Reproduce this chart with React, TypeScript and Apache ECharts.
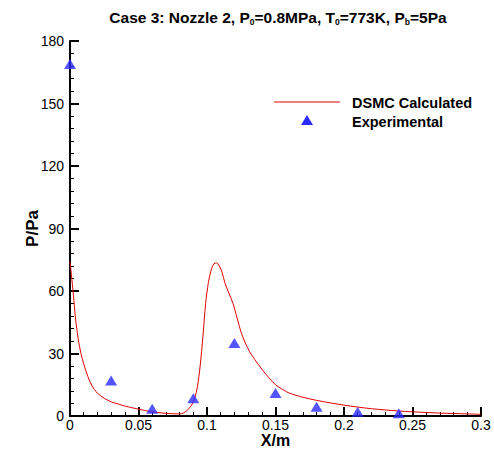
import React, { useEffect, useRef } from "react";
import * as echarts from "echarts";

const xTicks = [0, 0.05, 0.1, 0.15, 0.2, 0.25, 0.3];
const yTicks = [0, 30, 60, 90, 120, 150, 180];

const dsmcX = [0, 0.001, 0.0025, 0.004, 0.006, 0.008, 0.01, 0.013, 0.016, 0.02, 0.025, 0.03, 0.035, 0.04, 0.045, 0.05, 0.055, 0.06, 0.065, 0.07, 0.075, 0.08, 0.083, 0.086, 0.089, 0.091, 0.093, 0.095, 0.097, 0.099, 0.101, 0.103, 0.105, 0.107, 0.109, 0.111, 0.113, 0.116, 0.119, 0.122, 0.125, 0.128, 0.131, 0.135, 0.14, 0.145, 0.15, 0.155, 0.16, 0.17, 0.18, 0.19, 0.2, 0.21, 0.22, 0.23, 0.24, 0.25, 0.26, 0.27, 0.28, 0.29, 0.3];
const dsmcY = [74, 68, 58, 47, 37, 30, 25, 19, 14.5, 11, 8.5, 6.8, 5.8, 4.8, 4, 3.3, 2.6, 2, 1.6, 1.3, 1.1, 1.0, 1.5, 3, 5.5, 8.5, 14, 24, 38, 54, 64, 70, 73, 73.5, 72, 69, 64, 59, 54, 47, 40, 35, 31, 27, 22.5, 18.5, 15, 12.8, 11, 9, 7.5, 6.3, 5.2, 4.3, 3.5, 2.9, 2.4, 2, 1.7, 1.4, 1.2, 1, 0.8];

const expX = [0, 0.03, 0.06, 0.09, 0.12, 0.15, 0.18, 0.21, 0.24];
const expY = [169, 17, 3.5, 8.5, 35, 11, 4.5, 2, 1.3];

const FONT = "'Liberation Sans', Arial, sans-serif";

export default function App() {
  const ref = useRef<HTMLDivElement>(null);
  useEffect(() => {
    if (!ref.current) return;
    const chart = echarts.init(ref.current, null, { renderer: "svg" });
    chart.setOption({
      animation: false,
      backgroundColor: "#fff",
      title: {
        text: "Case 3: Nozzle 2, P{s|0}=0.8MPa, T{s|0}=773K, P{s|b}=5Pa",
        left: 273,
        textAlign: "center",
        top: 4,
        textStyle: {
          fontFamily: FONT,
          fontSize: 15.5,
          fontWeight: "bold",
          color: "#000",
          rich: {
            s: { fontFamily: FONT, fontSize: 8.5, fontWeight: "bold", color: "#000", padding: [8, 0, 0, 0] },
          },
        },
      },
      grid: { left: 70, right: 13, top: 41, bottom: 33, outerBoundsMode: "none", containLabel: false },
      xAxis: {
        type: "value",
        min: 0,
        max: 0.3,
        interval: 0.05,
        name: "X/m",
        nameLocation: "middle",
        nameGap: 17,
        nameMoveOverlap: false,
        nameTextStyle: { fontFamily: FONT, fontSize: 16, lineHeight: 14, fontWeight: "bold", color: "#000" },
        axisLine: { show: true, onZero: false, lineStyle: { color: "#000", width: 2 } },
        axisTick: { show: true, inside: true, length: 9, lineStyle: { color: "#000", width: 2 } },
        minorTick: { show: true, splitNumber: 5, length: 4, lineStyle: { color: "#000", width: 1 } },
        splitLine: { show: false },
        axisLabel: {
          fontFamily: FONT,
          fontSize: 14,
          lineHeight: 12,
          color: "#000",
          margin: 3,
          formatter: (v: number) => {
            const t = xTicks.find((k) => Math.abs(k - v) < 1e-9);
            return t === undefined ? "" : String(t);
          },
        },
      },
      yAxis: {
        type: "value",
        min: 0,
        max: 180,
        interval: 30,
        name: "P/Pa",
        nameLocation: "middle",
        nameGap: 29,
        nameMoveOverlap: false,
        nameRotate: 90,
        nameTextStyle: { fontFamily: FONT, fontSize: 17, fontWeight: "bold", color: "#000" },
        axisLine: { show: true, onZero: false, lineStyle: { color: "#000", width: 2 } },
        axisTick: { show: true, inside: true, length: 9, lineStyle: { color: "#000", width: 2 } },
        minorTick: { show: true, splitNumber: 5, length: 4, lineStyle: { color: "#000", width: 1 } },
        splitLine: { show: false },
        axisLabel: {
          fontFamily: FONT,
          fontSize: 14,
          color: "#000",
          margin: 6,
          formatter: (v: number) => {
            const t = yTicks.find((k) => Math.abs(k - v) < 1e-9);
            return t === undefined ? "" : String(t);
          },
        },
      },
      series: [
        {
          name: "DSMC Calculated",
          type: "line",
          data: dsmcX.map((x, i) => [x, dsmcY[i]]),
          smooth: 0.3,
          showSymbol: false,
          lineStyle: { color: "#e00000", width: 1 },
          z: 2,
        },
        {
          name: "Experimental",
          type: "scatter",
          data: expX.map((x, i) => [x, expY[i]]),
          symbol: "triangle",
          symbolSize: [12, 10],
          itemStyle: { color: "#2b2bff" },
          clip: false,
          z: 3,
        },
      ],
      graphic: [
        { type: "line", shape: { x1: 274, y1: 102, x2: 340, y2: 102 }, style: { stroke: "#e00000", lineWidth: 1 } },
        { type: "polygon", shape: { points: [[307, 115], [313, 125], [301, 125]] }, style: { fill: "#2b2bff" } },
        { type: "text", x: 352, y: 103, style: { text: "DSMC Calculated", font: "bold 14.5px " + FONT, fill: "#000", verticalAlign: "middle" } },
        { type: "text", x: 352, y: 122, style: { text: "Experimental", font: "bold 14.5px " + FONT, fill: "#000", verticalAlign: "middle" } },
      ],
    });
    return () => chart.dispose();
  }, []);
  return <div ref={ref} style={{ width: 494, height: 449, position: "absolute", left: 0, top: 0 }} />;
}
